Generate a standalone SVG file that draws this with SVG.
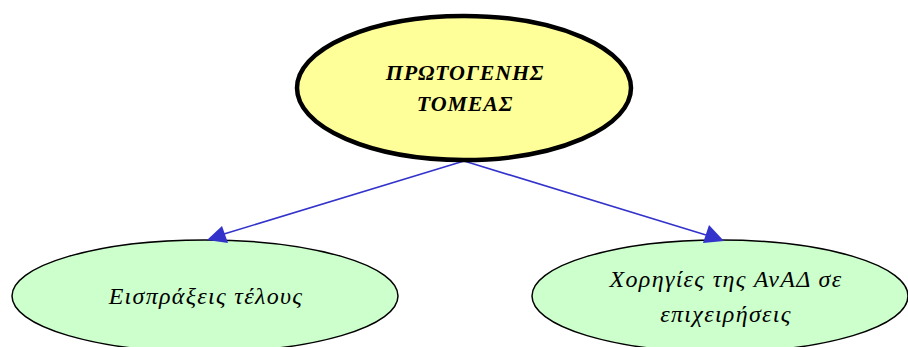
<svg xmlns="http://www.w3.org/2000/svg" width="908" height="347" viewBox="0 0 908 347">
<style>
text{font-family:"Liberation Serif","DejaVu Serif",serif;font-style:italic;text-anchor:middle;fill:#000}
.top{font-size:22px;font-weight:bold;letter-spacing:0.8px}
.leaf{font-size:24px;letter-spacing:1.3px}
.edge{stroke:#3333cc;stroke-width:1.6;fill:none}
.head{fill:#3333cc}
</style>
<rect width="908" height="347" fill="#fff"/>
<g id="n_left">
<ellipse cx="205" cy="296" rx="193" ry="56" fill="#ccffcc" stroke="#000" stroke-width="1.5"/>
<text class="leaf" x="206" y="304">Εισπράξεις τέλους</text>
</g>
<g id="n_right">
<ellipse cx="720" cy="296" rx="188" ry="56" fill="#ccffcc" stroke="#000" stroke-width="1.5"/>
<text class="leaf" x="726" y="287">Χορηγίες της ΑνΑΔ σε</text>
<text class="leaf" x="726" y="322">επιχειρήσεις</text>
</g>
<g id="edges">
<path class="edge" d="M464,161 L224,234"/>
<path class="head" d="M207,240 L222,226 L228,243 z"/>
<path class="edge" d="M464,161 L706,235"/>
<path class="head" d="M724,241 L703,243 L709,225 z"/>
</g>
<g id="n_top">
<ellipse cx="464" cy="88" rx="167" ry="72" fill="#ffff99" stroke="#000" stroke-width="4.5"/>
<text class="top" x="465" y="80">ΠΡΩΤΟΓΕΝΗΣ</text>
<text class="top" x="465" y="111">ΤΟΜΕΑΣ</text>
</g>
</svg>
